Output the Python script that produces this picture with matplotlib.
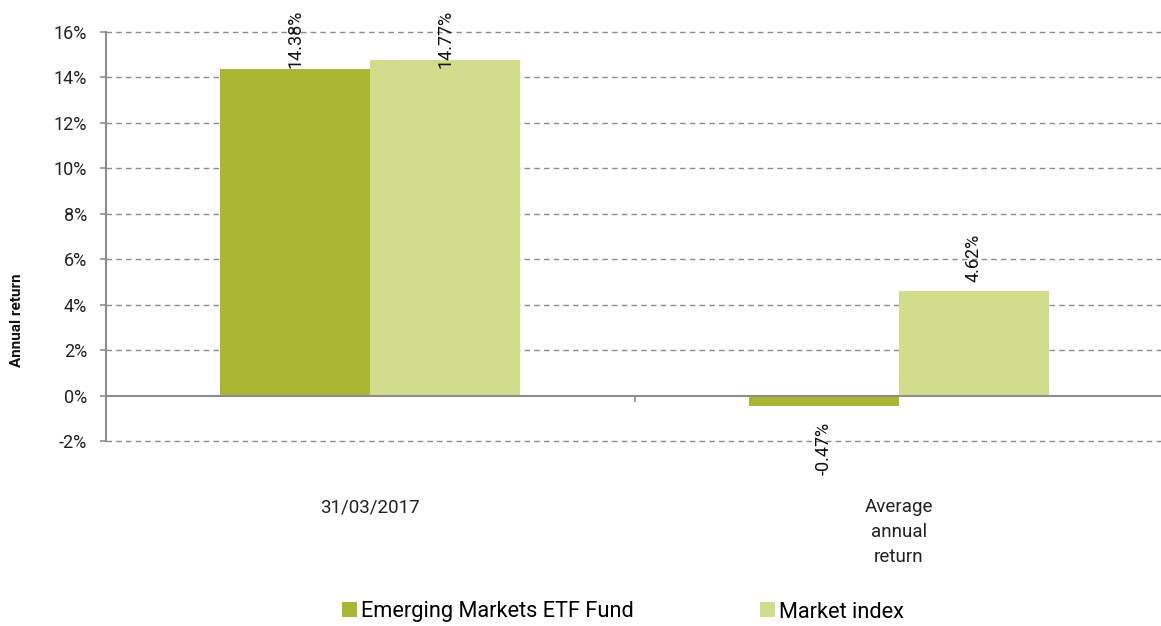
import matplotlib
matplotlib.use("Agg")
import matplotlib.pyplot as plt
from matplotlib.patches import Patch
import numpy as np

plt.rcParams['font.family'] = ['Roboto', 'DejaVu Sans']

categories = ['31/03/2017', 'Average\nannual\nreturn']
series_names = ['Emerging Markets ETF Fund', 'Market index']
fund_values = [14.38, -0.47]
index_values = [14.77, 4.62]
colors = ['#abb733', '#d1dc8d']
yticks = [-2, 0, 2, 4, 6, 8, 10, 12, 14, 16]

fig = plt.figure(figsize=(11.61, 6.26), dpi=100)
ax = fig.add_axes([106 / 1161, 1 - 441 / 626, 1 - 104 / 1161, (441 - 32) / 626])

x = np.arange(len(categories))
width = 0.284
bars_fund = ax.bar(x - width / 2, fund_values, width, color=colors[0], zorder=3)
bars_index = ax.bar(x + width / 2, index_values, width, color=colors[1], zorder=3)

ax.set_xlim(-0.5, len(categories) - 0.5)
ax.set_ylim(yticks[0], yticks[-1])
ax.set_yticks(yticks)
ax.set_yticklabels([f"{t}%" for t in yticks])

# grid (dashed), zero line is the x axis
for t in yticks:
    if t != 0:
        ax.axhline(t, color='#8c8c8c', lw=1, ls=(0, (4, 3)), zorder=1, clip_on=False)

for side in ['top', 'right']:
    ax.spines[side].set_visible(False)
ax.spines['left'].set_color('#8c8c8c')
ax.spines['left'].set_linewidth(1.5)
ax.spines['bottom'].set_position(('data', 0))
ax.spines['bottom'].set_color('#8c8c8c')
ax.spines['bottom'].set_linewidth(1.5)
ax.spines['bottom'].set_zorder(4)

ax.set_xticks(x)
ax.set_xticklabels(categories)
ax.set_xticks([0.5], minor=True)
ax.tick_params(axis='x', which='major', length=0, pad=74, labelsize=13.5, colors='#222222')
ax.tick_params(axis='x', which='minor', length=4, width=1.2, color='#8c8c8c', direction='out')
ax.tick_params(axis='y', length=4.5, width=1.2, color='#8c8c8c', pad=9, labelsize=13,
               labelcolor='#222222')
for lab in ax.get_xticklabels():
    lab.set_linespacing(1.48)
    lab.set_verticalalignment('top')

# value labels, rotated
for bars, vals in [(bars_fund, fund_values), (bars_index, index_values)]:
    for b, v in zip(bars, vals):
        cx = b.get_x() + b.get_width() / 2
        txt = f"{v:.2f}%"
        if v >= 0 and v + 3 > yticks[-1]:
            # would leave the figure: pin to the top edge
            ax.annotate(txt, xy=(cx, 1), xycoords=('data', 'axes fraction'),
                        xytext=(0, 16), textcoords='offset points',
                        rotation=90, ha='center', va='top', fontsize=13, color='#111111')
        elif v >= 0:
            ax.annotate(txt, xy=(cx, v), xytext=(0, 6.5), textcoords='offset points',
                        rotation=90, ha='center', va='bottom', fontsize=13, color='#111111')
        else:
            ax.annotate(txt, xy=(cx, v), xytext=(0, -11), textcoords='offset points',
                        rotation=90, ha='center', va='top', fontsize=13, color='#111111')

fig.text(17 / 1161, 1 - 320 / 626, 'Annual return', rotation=90, ha='center', va='center',
         fontsize=11, fontweight='bold', color='#111111')

handles = [Patch(facecolor=c, edgecolor='none') for c in colors]
fig.legend(handles, series_names, loc='center', bbox_to_anchor=(623 / 1161, 1 - 612 / 626),
           ncol=2, frameon=False, fontsize=15.7, handlelength=0.68, handleheight=0.68,
           handletextpad=0.2, columnspacing=5.8, borderpad=0)

fig.savefig('out.png', dpi=100)
